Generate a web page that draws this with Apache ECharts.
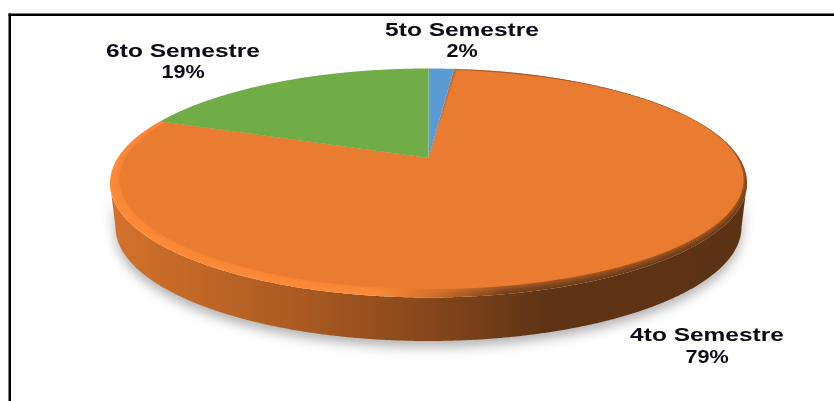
<!DOCTYPE html>
<html>
<head>
<meta charset="utf-8">
<style>html,body{margin:0;padding:0;background:#fff}#c{width:834px;height:401px}</style>
<script src="https://cdn.jsdelivr.net/npm/echarts@6/dist/echarts.min.js"></script>
</head>
<body>
<div id="c"></div>
<script>
// Data, clockwise from 12 o'clock
var categories = ['5to Semestre', '4to Semestre', '6to Semestre'];
var shares = [1.6, 79.3, 19.1];
var colors = ['#5b9bd5', '#e97c30', '#70ad47'];

// Layout
var top_ = {cx: 428.5, cy: 183, rx: 318.5, ry: 114.5};
var face = {cx: 431.5, cy: 179.5, rx: 312, ry: 109.5};
var base = {cx: 428.5, cy: 227, rx: 313, ry: 114};
var K = 25 / 114.5;                       // perspective strength
var labelPos = [[462, 31, 52], [707, 336, 358], [183, 52, 73]];

function unit(deg) {
  var t = deg * Math.PI / 180, u = Math.sin(t), v = -Math.cos(t), w = 1 - K * v;
  return {x: u * Math.sqrt(1 - K * K) / w, y: (v - K) / w, front: v >= K};
}
function onEllipse(p, e) { return [e.cx + p.x * e.rx, e.cy + p.y * e.ry]; }
function apex(e) { return [e.cx, e.cy - K * e.ry]; }

var total = shares.reduce(function (a, b) { return a + b; }, 0);
var acc = 0;
var spans = shares.map(function (s) {
  var a = acc / total * 360; acc += s;
  return [a, acc / total * 360];
});

function label(text, x, y, scaleX) {
  return {
    type: 'text', z2: 10, x: x, y: y, scaleX: scaleX,
    style: {
      text: text, textAlign: 'center', textVerticalAlign: 'middle',
      font: 'bold 18px "Liberation Sans"', fill: '#0c0c18'
    }
  };
}

function renderItem(params, api) {
  var i = params.dataIndex, a0 = spans[i][0], a1 = spans[i][1], step = 0.25;
  var angles = [];
  for (var d = a0; d < a1; d += step) angles.push(d);
  angles.push(a1);
  var rim = angles.map(unit);
  var children = [];

  // front wall of the disc
  var front = rim.filter(function (p) { return p.front; });
  if (front.length > 1) {
    var wall = front.map(function (p) { return onEllipse(p, top_); })
      .concat(front.slice().reverse().map(function (p) { return onEllipse(p, base); }));
    children.push({
      type: 'polygon', z2: 1, shape: {points: wall},
      style: {
        fill: new echarts.graphic.LinearGradient(0, 0, 1, 0, [
          {offset: 0, color: '#d4722b'},
          {offset: 0.3, color: '#aa5a22'},
          {offset: 0.5, color: '#86471b'},
          {offset: 0.68, color: '#5f3415'},
          {offset: 1, color: '#5c3214'}
        ]),
        shadowColor: 'rgba(0,0,0,0.3)', shadowBlur: 12, shadowOffsetX: 0, shadowOffsetY: 6
      }
    });
    // bevel under the top face
    var outer = [apex(top_)].concat(rim.map(function (p) { return onEllipse(p, top_); }));
    children.push({
      type: 'polygon', z2: 2, shape: {points: outer},
      style: {
        fill: new echarts.graphic.LinearGradient(0, 0, 1, 0, [
          {offset: 0, color: '#ff8b38'},
          {offset: 0.42, color: '#ff8b38'},
          {offset: 0.52, color: '#c96a28'},
          {offset: 0.62, color: '#6e3c18'},
          {offset: 1, color: '#5f3415'}
        ])
      }
    });
    var inner = [apex(top_)].concat(rim.map(function (p) { return onEllipse(p, face); }));
    children.push({
      type: 'polygon', z2: 3, shape: {points: inner},
      clipPath: {type: 'polygon', shape: {points: outer}},
      style: {fill: colors[i], shadowColor: colors[i], shadowBlur: 10}
    });
  } else {
    var flat = [apex(top_)].concat(rim.map(function (p) { return onEllipse(p, top_); }));
    children.push({type: 'polygon', z2: 4, shape: {points: flat}, style: {fill: colors[i]}});
  }

  children.push(label(categories[i], labelPos[i][0], labelPos[i][1], 1.36));
  children.push(label(Math.round(api.value(0)) + '%', labelPos[i][0], labelPos[i][2], 1.2));
  return {type: 'group', children: children};
}

var chart = echarts.init(document.getElementById('c'), null, {renderer: 'canvas'});
chart.setOption({
  animation: false,
  backgroundColor: '#ffffff',
  graphic: [
    {type: 'rect', silent: true, shape: {x: 8.5, y: 13.5, width: 826, height: 2.5}, style: {fill: '#000'}},
    {type: 'rect', silent: true, shape: {x: 8.5, y: 13.5, width: 2.5, height: 388}, style: {fill: '#000'}}
  ],
  series: [{
    type: 'custom',
    coordinateSystem: 'none',
    renderItem: renderItem,
    silent: true,
    clip: false,
    data: shares.map(function (s, i) { return {name: categories[i], value: [s]}; })
  }]
});
</script>
</body>
</html>
